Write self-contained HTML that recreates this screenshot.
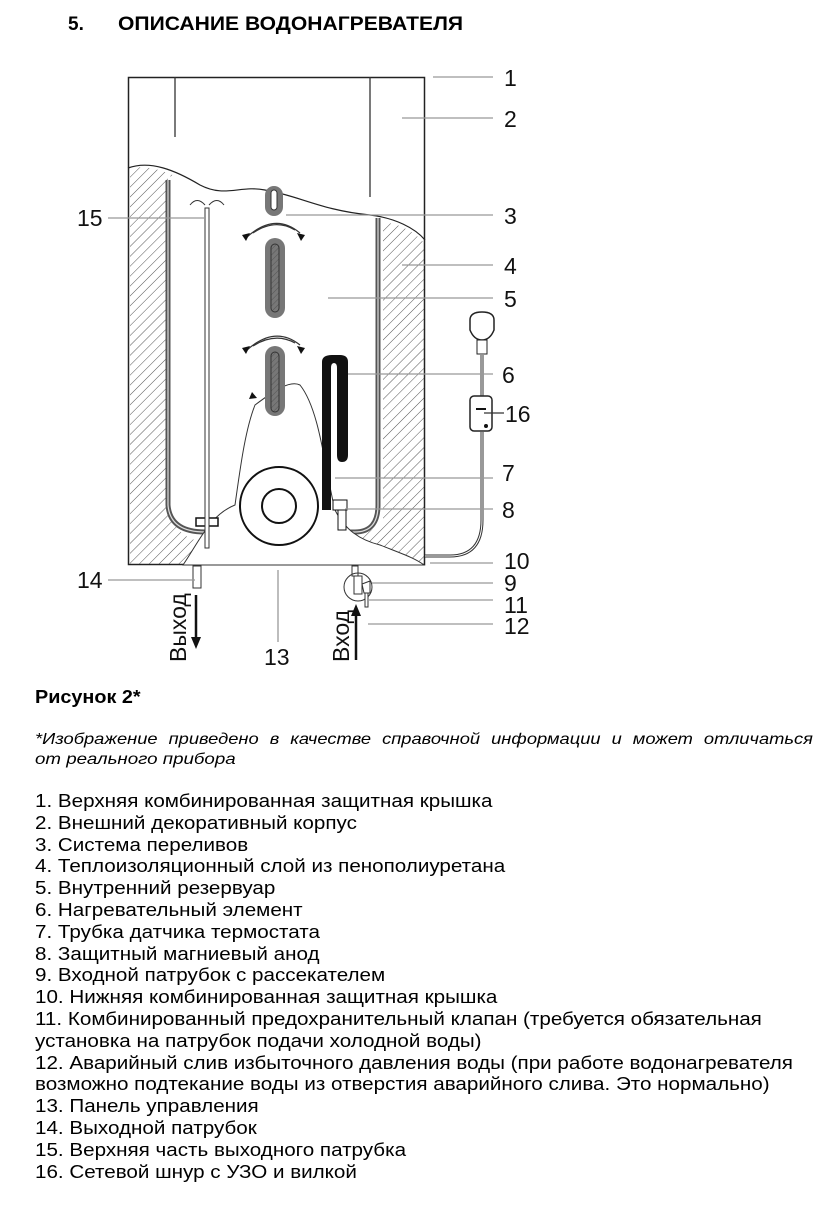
<!DOCTYPE html>
<html><head><meta charset="utf-8"><style>
body{margin:0;width:836px;height:1210px;background:#fff;font-family:"Liberation Sans",sans-serif;color:#000;position:relative;overflow:hidden}
.t{position:absolute;white-space:nowrap;transform-origin:0 0}
.list{position:absolute;left:35px;top:791px;font-size:18px;line-height:21.8px;transform:scaleX(1.145);transform-origin:0 0}
.list div{white-space:nowrap}
</style></head><body>
<div class="t" style="left:68px;top:14px;font-size:19px;font-weight:bold">5.</div>
<div class="t" style="left:118px;top:14px;font-size:19px;font-weight:bold;transform:scaleX(1.11)">ОПИСАНИЕ ВОДОНАГРЕВАТЕЛЯ</div>

<svg style="position:absolute;left:0;top:0" width="836" height="680" viewBox="0 0 836 680">
<defs>
<pattern id="h" width="7" height="7" patternUnits="userSpaceOnUse" patternTransform="rotate(45)">
<line x1="0" y1="0" x2="0" y2="7" stroke="#555" stroke-width="1"/></pattern>
<pattern id="h2" width="4" height="4" patternUnits="userSpaceOnUse" patternTransform="rotate(45)">
<line x1="0" y1="0" x2="0" y2="4" stroke="#555" stroke-width="1"/></pattern>
</defs>
<path d="M130,168 C150,165 165,172 175,176 L175,520 Q178,545 235,545 L310,545 Q360,545 383,520 L383,222 C400,224 415,232 424,243 L424,565 L130,565 Z" fill="url(#h)"/>
<path d="M168,176 L168,505 Q170,532 205,532 L355,532 Q378,532 378,505 L378,218 C340,210 300,198 260,190 C225,196 200,180 168,176 Z" fill="#fff"/>
<path d="M168,180 L168,505 Q170,532 205,532 L355,532 Q378,532 378,505 L378,218" fill="none" stroke="#555" stroke-width="5"/>
<path d="M168,180 L168,505 Q170,532 205,532 L355,532 Q378,532 378,505 L378,218" fill="none" stroke="#ddd" stroke-width="1.2"/>
<path d="M128,168 C150,160 175,170 200,185 C225,198 240,185 265,190 C300,196 320,210 370,215 C395,218 415,228 425,240" fill="none" stroke="#222" stroke-width="1.2"/>
<rect x="128.5" y="77.5" width="296" height="487" fill="none" stroke="#222" stroke-width="1.5"/>
<line x1="175" y1="77" x2="175" y2="137" stroke="#333" stroke-width="1.3"/>
<line x1="370" y1="77" x2="370" y2="197" stroke="#333" stroke-width="1.3"/>
<path d="M183,565 C200,540 210,515 235,505 C240,470 245,430 255,405 C275,390 290,380 300,385 C320,410 325,470 335,510 C345,530 360,540 380,545 C400,553 415,558 424,565 Z" fill="#fff" stroke="#333" stroke-width="1"/>
<circle cx="279" cy="506" r="39" fill="#fff" stroke="#111" stroke-width="2"/>
<circle cx="279" cy="506" r="17" fill="#fff" stroke="#111" stroke-width="2"/>
<rect x="265" y="186" width="18" height="30" rx="9" fill="#777"/><rect x="271" y="190" width="6" height="20" rx="3" fill="#fff" stroke="#333"/>
<rect x="265" y="238" width="20" height="80" rx="10" fill="#777"/><rect x="271" y="244" width="8" height="68" rx="4" fill="url(#h2)" stroke="#333"/>
<rect x="265" y="346" width="20" height="70" rx="10" fill="#777"/><rect x="271" y="352" width="8" height="60" rx="4" fill="url(#h2)" stroke="#333"/>
<g fill="none" stroke="#333" stroke-width="1.2">
<path d="M247,237 Q275,212 300,233"/><path d="M253,233 Q275,218 295,230"/>
<path d="M247,350 Q275,325 300,345"/><path d="M253,346 Q275,332 295,343"/>
</g>
<g fill="#111"><path d="M242,235 l8,-2 l-4,8z"/><path d="M305,235 l-8,-2 l4,8z"/><path d="M242,348 l8,-2 l-4,8z"/><path d="M305,348 l-8,-2 l4,8z"/><path d="M252,392 l5,6 l-8,1z"/></g>
<path d="M322,510 L322,362 Q322,355 332,355 L340,355 Q348,355 348,362 L348,455 Q348,462 342,462 Q337,462 337,455 L337,368 Q337,363 334,363 Q331,363 331,368 L331,510" fill="#111"/>
<rect x="333" y="500" width="14" height="10" fill="#fff" stroke="#111"/>
<rect x="338" y="510" width="8" height="20" fill="#fff" stroke="#111"/>
<rect x="196" y="518" width="22" height="8" fill="#fff" stroke="#111" stroke-width="1.5"/>
<rect x="205" y="208" width="4" height="340" fill="#fff" stroke="#333"/>
<path d="M190,205 Q197,196 205,205 M209,205 Q217,196 224,205" fill="none" stroke="#333"/>
<rect x="193" y="566" width="8" height="22" fill="#fff" stroke="#333"/>
<rect x="352" y="566" width="6" height="10" fill="#fff" stroke="#333"/>
<circle cx="358" cy="587" r="14" fill="none" stroke="#333"/>
<rect x="354" y="576" width="8" height="18" fill="#fff" stroke="#333"/>
<path d="M362,584 l8,-3 l0,12 l-6,0z" fill="#fff" stroke="#333"/>
<rect x="365" y="593" width="3" height="14" fill="#fff" stroke="#333"/>
<line x1="196" y1="595" x2="196" y2="642" stroke="#111" stroke-width="2.5"/><path d="M191,637 l5,12 l5,-12z" fill="#111"/>
<line x1="356" y1="612" x2="356" y2="660" stroke="#111" stroke-width="2.5"/><path d="M351,616 l5,-12 l5,12z" fill="#111"/>
<path d="M425,556 L450,556 Q482,556 482,520 L482,432" fill="none" stroke="#333" stroke-width="3"/>
<path d="M425,556 L450,556 Q482,556 482,520 L482,432" fill="none" stroke="#fff" stroke-width="1"/>
<line x1="482" y1="396" x2="482" y2="355" stroke="#333" stroke-width="3"/>
<line x1="482" y1="396" x2="482" y2="355" stroke="#fff" stroke-width="1"/>
<rect x="470" y="396" width="22" height="35" rx="4" fill="#fff" stroke="#222" stroke-width="1.5"/>
<line x1="476" y1="409" x2="486" y2="409" stroke="#111" stroke-width="2"/><circle cx="486" cy="426" r="2" fill="#111"/>
<path d="M470,320 Q470,312 482,312 Q494,312 494,320 L494,330 Q490,340 482,340 Q474,340 470,330 Z" fill="#fff" stroke="#222" stroke-width="1.5"/>
<rect x="477" y="340" width="10" height="14" fill="#fff" stroke="#222"/>
<g stroke="#999" stroke-width="1.3" fill="none">
<line x1="433" y1="77" x2="493" y2="77"/><line x1="402" y1="118" x2="493" y2="118"/>
<line x1="286" y1="215" x2="493" y2="215"/><line x1="402" y1="265" x2="493" y2="265"/>
<line x1="328" y1="298" x2="493" y2="298"/><line x1="348" y1="374" x2="493" y2="374"/>
<line x1="484" y1="413" x2="504" y2="413" stroke="#333"/><line x1="335" y1="478" x2="493" y2="478"/>
<line x1="345" y1="509" x2="493" y2="509"/><line x1="430" y1="563" x2="493" y2="563"/>
<line x1="372" y1="583" x2="493" y2="583"/><line x1="368" y1="600" x2="493" y2="600"/>
<line x1="368" y1="624" x2="493" y2="624"/><line x1="108" y1="218" x2="205" y2="218"/>
<line x1="108" y1="580" x2="195" y2="580"/><line x1="278" y1="570" x2="278" y2="642"/>
</g>
<g font-family="Liberation Sans,sans-serif" font-size="23" fill="#111">
<text x="504" y="86">1</text><text x="504" y="127">2</text><text x="504" y="224">3</text>
<text x="504" y="274">4</text><text x="504" y="307">5</text><text x="502" y="383">6</text>
<text x="505" y="422">16</text><text x="502" y="481">7</text><text x="502" y="518">8</text>
<text x="504" y="569">10</text><text x="504" y="591">9</text><text x="504" y="613">11</text>
<text x="504" y="634">12</text><text x="77" y="226">15</text><text x="77" y="588">14</text>
<text x="264" y="665">13</text>
<text transform="translate(186,662) rotate(-90)">Выход</text>
<text transform="translate(349,662) rotate(-90)">Вход</text>
</g>
</svg>

<div class="t" style="left:35px;top:687px;font-size:18px;font-weight:bold;transform:scaleX(1.1)">Рисунок 2*</div>
<div class="t" style="left:35px;top:731px;width:680px;font-size:16px;font-style:italic;white-space:normal;text-align:justify;text-align-last:justify;transform:scaleX(1.144)">*Изображение приведено в качестве справочной информации и может отличаться</div>
<div class="t" style="left:35px;top:751px;font-size:16px;font-style:italic;transform:scaleX(1.17)">от реального прибора</div>

<div class="list">
<div>1. Верхняя комбинированная защитная крышка</div>
<div>2. Внешний декоративный корпус</div>
<div>3. Система переливов</div>
<div>4. Теплоизоляционный слой из пенополиуретана</div>
<div>5. Внутренний резервуар</div>
<div>6. Нагревательный элемент</div>
<div>7. Трубка датчика термостата</div>
<div>8. Защитный магниевый анод</div>
<div>9. Входной патрубок с рассекателем</div>
<div>10. Нижняя комбинированная защитная крышка</div>
<div>11. Комбинированный предохранительный клапан (требуется обязательная</div>
<div>установка на патрубок подачи холодной воды)</div>
<div>12. Аварийный слив избыточного давления воды (при работе водонагревателя</div>
<div>возможно подтекание воды из отверстия аварийного слива. Это нормально)</div>
<div>13. Панель управления</div>
<div>14. Выходной патрубок</div>
<div>15. Верхняя часть выходного патрубка</div>
<div>16. Сетевой шнур с УЗО и вилкой</div>
</div>
</body></html>
